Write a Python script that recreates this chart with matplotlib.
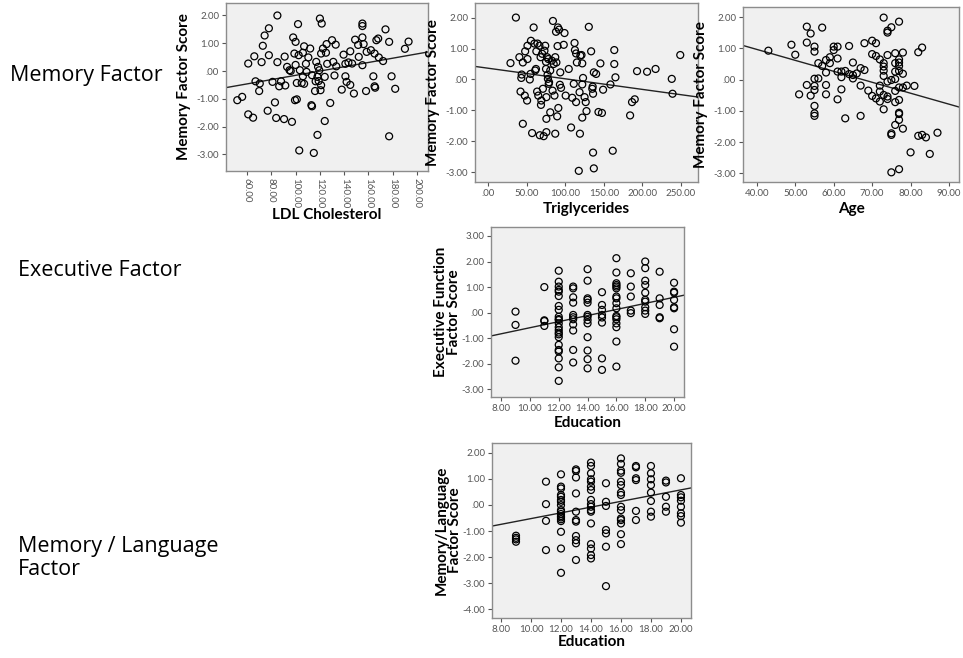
import numpy as np
import matplotlib
matplotlib.use("Agg")
from matplotlib import pyplot as plt
from matplotlib.ticker import FuncFormatter

plt.rcParams['font.family'] = ['Lato', 'DejaVu Sans']

# ---- LDL cholesterol vs memory factor score
ldl = [52, 56, 61, 61, 65, 66, 67, 70, 70.5, 72, 73, 74.5, 78, 77, 78, 81, 83, 84, 85, 85,
       86.5, 88, 90.5, 91, 91.5, 93, 95, 96, 97, 98, 100, 99, 99.5, 101, 100, 102, 101, 103,
       102.5, 103.5, 105, 107, 106, 106, 107, 108.5, 109, 110.5, 112, 113, 113.5, 113.5, 115,
       116, 116.5, 117, 118, 118, 118.5, 119, 119.5, 120, 120.5, 121, 121, 121.5, 122.5, 124,
       124, 125, 125.5, 126, 128.5, 130, 131, 132, 133, 133.5, 138, 139.5, 141, 141, 142,
       143.5, 145, 145, 146.5, 148, 149, 151.5, 152, 155, 155, 155, 155, 156, 158, 158.5,
       162, 164, 165, 165.5, 165, 166.5, 168, 168.5, 172, 174, 177, 177, 179, 182, 190, 193]
ldl_mem = [-1.05, -0.93, 0.27, -1.56, -1.68, 0.53, -0.37, -0.72, -0.45, 0.32, 0.91, 1.28, 1.54,
           -1.43, 0.57, -0.39, -1.13, -1.69, 0.32, 2.00, -0.55, -0.37, -1.73, 0.52, -0.52, 0.15,
           0.03, 0.00, -1.83, 1.21, 1.05, 0.63, -1.05, -1.02, 0.22, 1.69, -0.43, -2.86, 0.57,
           0.03, -0.43, 0.89, -0.19, 0.66, -0.46, 0.26, -0.03, 0.49, 0.81, -1.23, -1.27, -0.15,
           -2.95, -0.72, -0.37, 0.33, -0.21, -2.30, 0.15, -0.36, 0.03, 1.89, -0.69, -0.51, 0.63,
           1.71, 0.81, -1.80, -0.21, 0.66, 0.97, 0.26, -1.15, 1.11, 0.33, -0.16, 0.95, 0.17,
           -0.67, 0.59, 0.26, -0.19, -0.39, 0.31, -0.50, 0.71, 0.27, -0.81, 1.13, 0.94, 0.51,
           1.71, 1.62, 1.21, 0.21, 0.97, -0.72, 0.69, 0.75, -0.19, -0.55, -0.60, 0.63, 1.11,
           1.17, 0.49, 0.36, 1.50, 1.05, -2.35, -0.19, -0.64, 0.80, 1.06]

# ---- triglycerides vs memory factor score
trig = [29, 36, 40.5, 42, 43, 43.5, 45, 45, 47.5, 48, 50.5, 51, 51, 54, 55, 55.5, 57, 59, 60,
        61, 62, 62.5, 63.5, 64, 65, 67, 66.5, 68, 68.5, 69, 70, 71, 72, 73, 74, 75, 75.5, 75.5,
        75, 75.5, 76.5, 77, 77.5, 78, 78.5, 79, 80.5, 80.5, 82.5, 83.5, 84, 85, 86, 87, 87, 88,
        88.5, 89.5, 90.5, 90, 91, 92, 93, 93.5, 94.5, 98, 99, 100.5, 104.5, 107.5, 109, 111,
        112, 112.5, 114, 114, 115, 117.5, 118.5, 119, 119.5, 121, 122, 122, 123, 122, 125,
        126.5, 127.5, 130.5, 133.5, 135, 135.5, 136, 136, 137, 137, 140, 143, 145.5, 147.5,
        149, 158.5, 161.5, 163.5, 163.5, 165, 184, 186.5, 190, 193, 206, 217, 238, 239, 249]
trig_mem = [0.53, 2.00, 0.72, -0.39, 0.05, 0.16, 0.55, -1.43, -0.52, 0.91, -0.68, 1.09, 0.66,
            0.00, 0.18, 1.25, -1.73, 1.68, 1.16, 0.29, 0.34, 0.91, -0.39, 1.16, -0.52, -1.80,
            1.09, 0.72, -0.82, -0.68, 0.83, -0.30, -1.83, 0.93, 1.09, 0.34, -1.27, -0.57, 0.57,
            -1.70, 0.72, 0.15, 0.02, 0.66, -0.14, -0.09, 0.29, -1.06, 0.61, -0.36, 1.89, 0.50,
            -0.52, -1.75, 0.72, 1.54, 0.55, -1.19, 1.68, 1.08, -0.92, 1.61, -0.17, 0.23, -0.27,
            1.12, 1.50, -0.52, 0.34, -1.55, -0.59, -0.14, 1.18, 0.95, -0.73, 0.84, 0.55, -2.95,
            -0.41, -1.75, 0.77, 0.79, 0.52, -1.23, 0.05, -0.16, -0.57, -0.73, -1.02, 1.70, 0.91,
            -0.30, -0.23, -0.46, -2.36, -2.87, 0.23, 0.18, -1.05, 0.52, -1.08, -0.33, -0.16,
            -2.30, 0.95, 0.50, 0.07, -1.16, -0.73, -0.64, 0.27, 0.25, 0.34, 0.02, -0.46, 0.79]

# ---- age vs memory factor score
age = [43, 49, 50, 51, 53, 53, 53, 54, 54, 55, 55, 55, 55, 55, 55, 55, 55, 56, 56, 57, 57,
       58, 58, 58, 58, 59, 59, 60, 60, 61, 61, 61, 61, 62, 62, 62, 63, 63, 64, 64, 65, 65, 65,
       66, 67, 67, 67, 68, 68, 69, 70, 70, 70, 71, 71, 71, 72, 72, 72, 72,
       73, 73, 73, 73, 73, 73, 73, 74, 74, 74, 74, 74, 74, 75, 75, 75, 75, 75,
       76, 76, 76, 76, 76, 76, 76, 77, 77, 77, 77, 77, 77, 77, 77, 77, 77, 77,
       78, 78, 78, 78, 79, 80, 81, 82, 82, 83, 83, 84, 85, 87]
age_mem = [0.93, 1.12, 0.80, -0.47, 1.70, 1.19, -0.17, 1.48, -0.51, 1.06, 0.90, 0.03, -0.20,
           -0.84, -1.08, -1.16, -0.33, 0.04, 0.53, 1.67, 0.44, 0.23, 0.63, -0.17, -0.47, 0.72,
           0.53, 0.95, 1.06, 1.06, 0.68, 0.26, -0.63, 0.26, 0.08, -0.31, 0.28, -1.24, 1.08, 0.18,
           0.15, 0.04, 0.55, 0.20, 0.37, -0.19, -1.16, 0.31, 1.17, -0.35, 1.25, 0.82, -0.52,
           1.17, 0.76, -0.60, 0.65, -0.19, -0.38, -0.70,
           1.99, 0.53, 0.42, 0.29, 0.12, -0.49, -0.95, 1.57, -0.06, -0.54, -0.62, 0.79, 1.51,
           1.68, -0.01, -1.72, -1.77, -2.97, 0.85, 0.53, 0.26, 0.02, -0.36, -0.72, -1.45,
           1.86, 0.55, 0.44, 0.28, -0.25, -0.65, -1.06, -1.10, -1.29, -2.87, 0.65,
           0.87, 0.19, -0.25, -1.57, -0.19, -2.33, -0.20, 0.88, -1.80, 1.03, -1.77, -1.85,
           -2.38, -1.70]

# ---- education vs executive function factor score
exec_edu = ([9] * 3 + [11] * 4 + [12] * 23 + [13] * 11 + [14] * 13 + [15] * 8 + [16] * 17
            + [17] * 5 + [18] * 10 + [19] * 5 + [20] * 8)
exec_score = [0.04, -0.48, -1.88,
              1.00, -0.30, -0.33, -0.52,
              1.64, 1.21, 1.02, 0.89, 0.82, 0.65, 0.26, 0.11, -0.16, -0.25, -0.29, -0.42,
              -0.57, -0.68, -0.78, -0.85, -0.96, -1.26, -1.46, -1.52, -1.79, -2.14, -2.67,
              1.02, 0.95, 0.60, 0.39, -0.09, -0.18, -0.26, -0.46, -0.70, -1.46, -1.95,
              1.70, 1.25, 0.56, 0.50, 0.39, -0.09, -0.16, -0.29, -0.42, -0.96, -1.48, -1.82, -2.18,
              0.80, 0.30, 0.11, -0.09, -0.19, -0.39, -1.79, -2.24,
              2.13, 1.57, 1.15, 1.08, 1.02, 0.95, 0.63, 0.56, 0.37, 0.17, -0.13, -0.18, -0.26,
              -0.42, -0.57, -1.13, -2.11,
              1.54, 1.02, 0.63, 0.08, -0.02,
              2.00, 1.74, 1.25, 1.08, 0.78, 0.50, 0.43, 0.21, 0.08, -0.05,
              1.60, 0.56, 0.30, -0.18, -0.22,
              1.17, 0.82, 0.78, 0.50, 0.21, 0.17, -0.65, -1.33]

# ---- education vs memory/language factor score
lang_edu = ([9] * 4 + [11] * 4 + [12] * 18 + [13] * 11 + [14] * 17 + [15] * 7 + [16] * 15
            + [17] * 6 + [18] * 8 + [19] * 5 + [20] * 8)
lang_score = [-1.18, -1.26, -1.32, -1.41,
              0.89, 0.03, -0.61, -1.73,
              1.17, 0.70, 0.63, 0.38, 0.31, 0.19, 0.12, -0.01, -0.20, -0.26, -0.35, -0.43,
              -0.48, -0.55, -0.62, -1.03, -1.67, -2.60,
              1.36, 1.30, 1.05, 0.44, -0.26, -0.58, -0.64, -1.19, -1.35, -1.47, -2.11,
              1.62, 1.49, 1.21, 0.98, 0.89, 0.70, 0.57, 0.19, 0.03, -0.07, -0.20, -0.26, -0.71,
              -1.50, -1.67, -1.92, -2.05,
              0.83, 0.12, -0.04, -0.96, -1.09, -1.60, -3.11,
              1.78, 1.57, 1.31, 1.23, 0.89, 0.76, 0.47, 0.38, -0.07, -0.20, -0.52, -0.58,
              -0.71, -1.12, -1.50,
              1.49, 1.44, 1.02, 0.95, -0.23, -0.58,
              1.49, 1.21, 0.98, 0.76, 0.47, 0.15, -0.26, -0.45,
              0.93, 0.86, 0.31, -0.07, -0.26,
              1.02, 0.38, 0.29, 0.16, -0.07, -0.32, -0.43, -0.68]

# fit lines (intercept, slope)
ldl_fit = (-0.927, 0.00772)
trig_fit = (0.364, -0.00342)
age_fit = (2.374, -0.0351)
exec_fit = (-1.78, 0.119)
lang_fit = (-1.624, 0.110)

row_labels = ["Memory Factor", "Executive Factor", "Memory / Language\nFactor"]


def spss_fmt(v, pos):
    s = "%.2f" % v
    if s in ("0.00", "-0.00"):
        return ".00"
    if s.startswith("0."):
        s = s[1:]
    return s


W, H = 963, 658
fig = plt.figure(figsize=(W / 100, H / 100), dpi=100)


def box(l, t, r, b):
    return [l / W, 1 - b / H, (r - l) / W, (b - t) / H]


def scatter_panel(rect, x, y, fit, xlim, ylim, xticks, yticks, xlabel, ylabel,
                  rot=0, xpad=4, ypad=4):
    ax = fig.add_axes(box(*rect))
    ax.set_facecolor('#f0f0f0')
    ax.scatter(x, y, s=25, facecolors='none', edgecolors='black', linewidths=0.9, zorder=3)
    xx = np.array(xlim)
    ax.plot(xx, fit[0] + fit[1] * xx, color='#222222', lw=1.0, zorder=2)
    ax.set_xlim(xlim)
    ax.set_ylim(ylim)
    ax.set_xticks(xticks)
    ax.set_yticks(yticks)
    ax.xaxis.set_major_formatter(FuncFormatter(spss_fmt))
    ax.yaxis.set_major_formatter(FuncFormatter(spss_fmt))
    ax.tick_params(labelsize=7, colors='#555555', length=3, width=0.8, pad=2)
    for lab in ax.get_xticklabels():
        lab.set_rotation(rot)
    for sp in ax.spines.values():
        sp.set_color('#8c8c8c')
        sp.set_linewidth(1.0)
    ax.set_xlabel(xlabel, fontsize=11, fontweight='bold', labelpad=xpad)
    ax.set_ylabel(ylabel, fontsize=11, fontweight='bold', labelpad=ypad, linespacing=0.95)
    return ax


scatter_panel((226, 3, 428, 171), ldl, ldl_mem, ldl_fit, (42.7, 209), (-3.6, 2.45),
              np.arange(60, 201, 20), np.arange(-3, 3, 1),
              "LDL Cholesterol", "Memory Factor Score", rot=270, xpad=0)
scatter_panel((475, 3, 698, 182), trig, trig_mem, trig_fit, (-17, 272), (-3.31, 2.47),
              np.arange(0, 251, 50), np.arange(-3, 3, 1),
              "Triglycerides", "Memory Factor Score", xpad=3)
scatter_panel((743, 7, 959, 182), age, age_mem, age_fit, (36.4, 92.6), (-3.28, 2.33),
              np.arange(40, 91, 10), np.arange(-3, 3, 1),
              "Age", "Memory Factor Score", xpad=3)
scatter_panel((491, 227, 684, 397), exec_edu, exec_score, exec_fit, (7.3, 20.69), (-3.3, 3.35),
              np.arange(8, 21, 2), np.arange(-3, 4, 1),
              "Education", "Executive Function\nFactor Score", xpad=2, ypad=0)
scatter_panel((492, 443, 691, 618), lang_edu, lang_score, lang_fit, (7.4, 20.67), (-4.33, 2.37),
              np.arange(8, 21, 2), np.arange(-4, 3, 1),
              "Education", "Memory/Language\nFactor Score", xpad=1, ypad=0)

# row captions on the left
fig.text(10 / W, 1 - 75 / H, row_labels[0], fontsize=15.5, family='Open Sans', va='center')
fig.text(18 / W, 1 - 270 / H, row_labels[1], fontsize=15.5, family='Open Sans', va='center')
fig.text(18 / W, 1 - 558 / H, row_labels[2], fontsize=15.5, family='Open Sans', va='center',
         linespacing=1.15)

plt.savefig('out.png', dpi=100)
